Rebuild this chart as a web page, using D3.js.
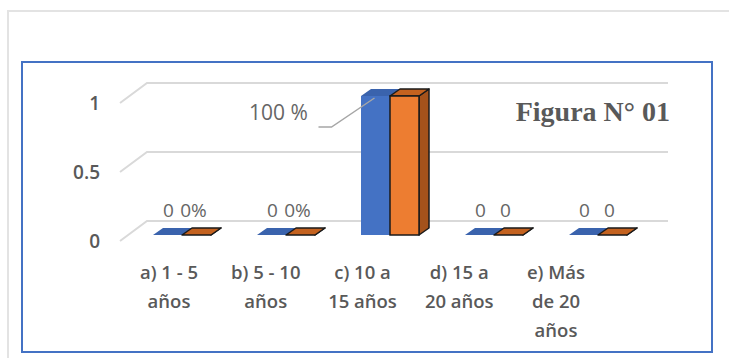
<!DOCTYPE html>
<html>
<head>
<meta charset="utf-8">
<script src="https://cdn.jsdelivr.net/npm/d3@7"></script>
<style>
  body { margin:0; background:#fff; }
  svg { display:block; }
</style>
</head>
<body>
<svg></svg>
<script>
var screen = {width:729, height:358}

// data
var categories = ["a) 1 - 5 años", "b) 5 - 10 años", "c) 10 a 15 años", "d) 15 a 20 años", "e) Más de 20 años"]
var catLines = [["a) 1 - 5","años"], ["b) 5 - 10","años"], ["c) 10 a","15 años"], ["d) 15 a","20 años"], ["e) Más","de 20","años"]]
var serie1 = [0, 0, 1, 0, 0]
var serie2 = [0, 0, 1, 0, 0]
var labels1 = ["0", "0", "100 %", "0", "0"]
var labels2 = ["0%", "0%", "", "0", "0"]
var yTicks = [0, 0.5, 1]
var title = "Figura N° 01"

var svg = d3.select("svg")
  .attr("width", screen.width)
  .attr("height", screen.height)

// outer light frame
svg.append("path")
  .attr("d", "M8,358 V11 H729")
  .attr("fill", "none")
  .attr("stroke", "#e3e3e3")
  .attr("stroke-width", 2)

// blue chart border
svg.append("rect")
  .attr("x", 22).attr("y", 62)
  .attr("width", 690).attr("height", 290)
  .attr("fill", "#fff")
  .attr("stroke", "#4472c4")
  .attr("stroke-width", 2)

var depth = {dx:27, dy:-20}      // wall depth
var barDepth = {dx:10, dy:-7}    // bar depth

var yGrid = d3.scaleLinear().domain([0,1]).range([221,83])
var yBar = d3.scaleLinear().domain([0,1]).range([235,96])
var xBar = d3.scalePoint().domain(categories).range([182,598])
var xLab = d3.scalePoint().domain(categories).range([169,556])
var xSub = d3.scaleBand().domain(["s1","s2"]).range([-29,29])

var gridX0 = 147, gridX1 = 668

// gridlines on back wall + side wall slant
var grid = svg.append("g").attr("id","grid")
grid.selectAll("path")
  .data(yTicks)
  .enter()
  .append("path")
  .attr("d", function(v){
      var y = yGrid(v)
      return "M" + (gridX0 - depth.dx) + "," + (y - depth.dy) + " L" + gridX0 + "," + y + " H" + gridX1
  })
  .attr("fill","none")
  .attr("stroke","#d9d9d9")
  .attr("stroke-width",2)

// y tick labels
svg.append("g")
  .selectAll("text")
  .data(yTicks)
  .enter()
  .append("text")
  .attr("x", 100)
  .attr("y", function(v){ return yGrid(v) - depth.dy + 2 })
  .attr("text-anchor","end")
  .attr("dominant-baseline","middle")
  .attr("font-family","'Open Sans', sans-serif")
  .attr("font-weight",600)
  .attr("font-size",19)
  .attr("fill","#595959")
  .text(function(v){ return v })

var drawBar = function(g, x, w, value, front, top, side, stroke)
{
  var y0 = yBar(0), y1 = yBar(value)
  var bx = barDepth.dx, by = barDepth.dy
  if (side) {
    g.append("path")
      .attr("d", "M"+(x+w)+","+y0+" L"+(x+w+bx)+","+(y0+by)+" L"+(x+w+bx)+","+(y1+by)+" L"+(x+w)+","+y1+"Z")
      .attr("fill", side).attr("stroke", stroke || "none").attr("stroke-width",1.5).attr("stroke-linejoin","round")
  }
  g.append("path")
    .attr("d", "M"+x+","+y1+" L"+(x+bx)+","+(y1+by)+" L"+(x+w+bx)+","+(y1+by)+" L"+(x+w)+","+y1+"Z")
    .attr("fill", top).attr("stroke", stroke || "none").attr("stroke-width",1.5).attr("stroke-linejoin","round")
  if (value > 0) {
    g.append("rect")
      .attr("x", x).attr("y", y1)
      .attr("width", w).attr("height", y0 - y1)
      .attr("fill", front).attr("stroke", stroke || "none").attr("stroke-width",1.5)
  }
}

var bars = svg.append("g").attr("id","bars")
categories.forEach(function(c, i){
  var g = bars.append("g")
  drawBar(g, xBar(c) + xSub("s1"), xSub.bandwidth(), serie1[i], "#4472c4", "#3a63ad", null, null)
  drawBar(g, xBar(c) + xSub("s2"), xSub.bandwidth(), serie2[i], "#ed7d31", "#c4621f", "#a4521b", "#1a1a1a")
})

// data labels
var lab = svg.append("g")
  .attr("font-family","'Open Sans', sans-serif")
  .attr("font-size",19)
  .attr("fill","#666")
  .attr("text-anchor","middle")

categories.forEach(function(c, i){
  var cx1 = xBar(c) + xSub("s1") + xSub.bandwidth()/2
  var cx2 = xBar(c) + xSub("s2") + xSub.bandwidth()/2
  if (serie1[i] > 0) {
    var ty = yBar(serie1[i])
    lab.append("text").attr("x", cx1 - 97).attr("y", ty + 24).attr("font-size",21).text(labels1[i])
    lab.append("path")
      .attr("d", "M"+(cx1-57)+","+(ty+31)+" H"+(cx1-44)+" L"+(cx1-1)+","+(ty+2))
      .attr("fill","none").attr("stroke","#a6a6a6").attr("stroke-width",1.5)
  } else {
    lab.append("text").attr("x", cx1 + 1).attr("y", yBar(serie1[i]) - 18).text(labels1[i])
  }
  if (labels2[i] !== "") {
    lab.append("text").attr("x", cx2 - 3).attr("y", yBar(serie2[i]) - 18).text(labels2[i])
  }
})

// category labels
var cat = svg.append("g")
  .selectAll("text")
  .data(categories)
  .enter()
  .append("text")
  .attr("x", function(c){ return xLab(c) })
  .attr("y", 279)
  .attr("text-anchor","middle")
  .attr("font-family","'Open Sans', sans-serif")
  .attr("font-weight",600)
  .attr("font-size",18.5)
  .attr("fill","#595959")

cat.selectAll("tspan")
  .data(function(c, i){ return catLines[i] })
  .enter()
  .append("tspan")
  .attr("x", function(){ return d3.select(this.parentNode).attr("x") })
  .attr("dy", function(d, j){ return j == 0 ? 0 : 29 })
  .text(function(d){ return d })

// title
svg.append("text")
  .attr("x", 670)
  .attr("y", 121)
  .attr("text-anchor","end")
  .attr("font-family","'Liberation Serif', serif")
  .attr("font-weight","bold")
  .attr("font-size",28)
  .attr("fill","#595959")
  .text(title)
</script>
</body>
</html>
